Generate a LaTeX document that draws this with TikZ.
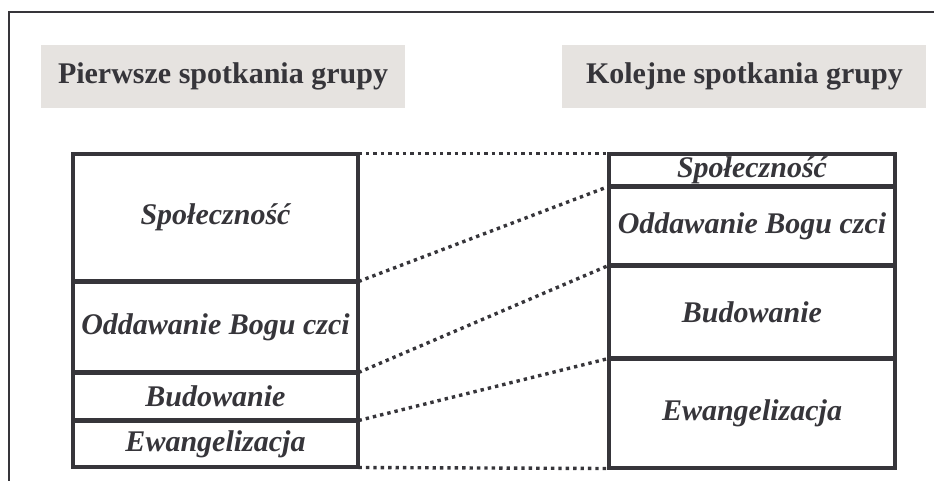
\documentclass[tikz,border=0pt]{standalone}
\usepackage{fontspec}
\setmainfont{Liberation Serif}
\usepackage{tikz}
\usetikzlibrary{positioning}
\definecolor{ink}{HTML}{36353A}
\definecolor{headgray}{HTML}{E6E3E0}
\tikzset{
        base/.style={draw=ink, line width=3.4pt, outer sep=0.5pt, inner sep=1pt,
                     text=ink, font=\fontsize{30}{34}\selectfont\bfseries\itshape},
        lrow/.style={base, rectangle, minimum width=285pt},
        rrow/.style={base, rectangle, minimum width=286pt},
        head/.style={fill=headgray, text=ink, minimum width=364pt,
                     minimum height=63pt, font=\fontsize{30}{34}\selectfont\bfseries},
        dotline/.style={draw=ink, line width=3.4pt, dash pattern=on 3.4pt off 4pt},
 }
\begin{document}
\begin{tikzpicture}[x=1pt,y=-1pt]
    \useasboundingbox (0,0) rectangle (934,481);
    \draw[ink, line width=2.6pt] (9,481) -- (9,12) -- (934,12);

    \node[head] (h1) at (223,76.5) {Pierwsze spotkania grupy};
    \node[head, right=157pt of h1] (h2) {Kolejne spotkania grupy};

    \node[lrow, minimum height=127pt, anchor=north west] (l1) at (72.5,153.5) {Społeczność};
    \node[lrow, minimum height=90pt, below=0pt of l1] (l2) {Oddawanie Bogu czci};
    \node[lrow, minimum height=47pt, below=0pt of l2] (l3) {Budowanie};
    \node[lrow, minimum height=46pt, below=0pt of l3] (l4) {Ewangelizacja};

    \node[rrow, minimum height=32pt, right=250pt of l1.north east, anchor=north west] (r1) {Społeczność};
    \node[rrow, minimum height=78pt, below=0pt of r1] (r2) {Oddawanie Bogu czci};
    \node[rrow, minimum height=92pt, below=0pt of r2] (r3) {Budowanie};
    \node[rrow, minimum height=109pt, below=0pt of r3] (r4) {Ewangelizacja};

    \draw[dotline] (l1.north east) -- (r1.north west);
    \draw[dotline] (l1.south east) -- (r1.south west);
    \draw[dotline] (l2.south east) -- (r2.south west);
    \draw[dotline] (l3.south east) -- (r3.south west);
    \draw[dotline] (l4.south east) -- (r4.south west);
\end{tikzpicture}
\end{document}
